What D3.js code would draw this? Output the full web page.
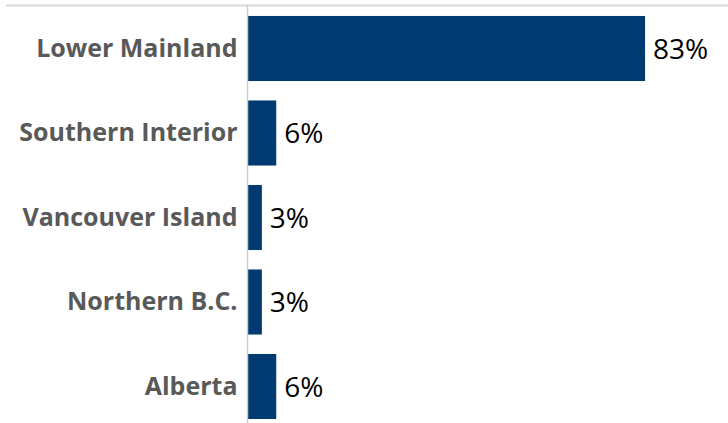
<!DOCTYPE html>
<html>
<head>
<meta charset="utf-8">
<script src="https://cdn.jsdelivr.net/npm/d3@7"></script>
<style>
body { margin: 0; background: #fff; }
</style>
</head>
<body>
<script>
// data
var regions = ["Lower Mainland", "Southern Interior", "Vancouver Island", "Northern B.C.", "Alberta"] ;
var shares = [83, 6, 3, 3, 6] ;
var shareLabels = ["83%", "6%", "3%", "3%", "6%"] ;

var width = 728, height = 423 ;
var axisX = 247.5 ;

var svg = d3.select("body").append("svg")
    .attr("width", width)
    .attr("height", height) ;

var x = d3.scaleLinear()
    .domain([0, 100])
    .range([axisX, axisX + 479]) ;

var y = d3.scaleBand()
    .domain(regions)
    .range([6.25, 428.75])
    .paddingInner(0.23)
    .paddingOuter(0.115) ;

// top border line
svg.append("line")
    .attr("x1", 6)
    .attr("x2", width)
    .attr("y1", 5.5)
    .attr("y2", 5.5)
    .attr("stroke", "#d9d9d9")
    .attr("stroke-width", 2) ;

svg.selectAll("rect.bar")
    .data(regions)
    .enter().append("rect")
    .attr("class", "bar")
    .attr("x", axisX)
    .attr("y", function(d) { return y(d) ; })
    .attr("width", function(d, i) { return x(shares[i]) - axisX ; })
    .attr("height", y.bandwidth())
    .attr("fill", "#003a70") ;

// category axis
var yAxis = d3.axisLeft(y).tickSize(0).tickPadding(10) ;
var ga = svg.append("g")
    .attr("transform", "translate(" + axisX + ",0)")
    .call(yAxis) ;
ga.select(".domain")
    .attr("stroke", "#d0d0d0")
    .attr("stroke-width", 1.5)
    .attr("d", "M0,5V" + height) ;
ga.selectAll("text")
    .attr("font-family", "Open Sans")
    .attr("font-weight", "bold")
    .attr("font-size", "25px")
    .attr("fill", "#595959") ;

svg.selectAll("text.val")
    .data(regions)
    .enter().append("text")
    .attr("class", "val")
    .attr("x", function(d, i) { return x(shares[i]) + 8 ; })
    .attr("y", function(d) { return y(d) + y.bandwidth()/2 ; })
    .attr("dy", "0.36em")
    .attr("font-family", "Open Sans")
    .attr("font-size", "28px")
    .attr("fill", "#000")
    .text(function(d, i) { return shareLabels[i] ; }) ;
</script>
</body>
</html>
